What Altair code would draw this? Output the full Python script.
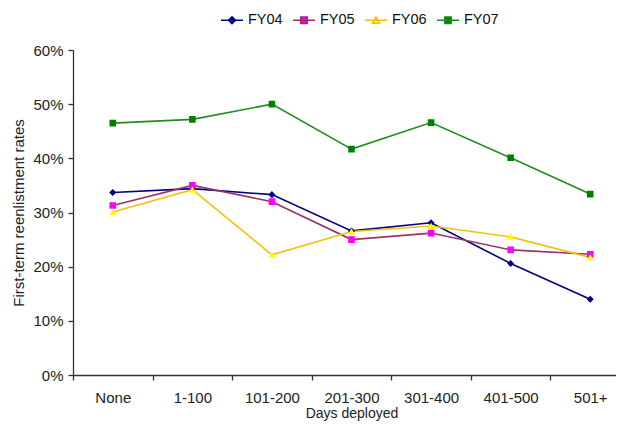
import altair as alt
import pandas as pd

categories = ["None", "1-100", "101-200", "201-300", "301-400", "401-500", "501+"]
series = ["FY04", "FY05", "FY06", "FY07"]
fy04 = [33.7, 34.4, 33.3, 26.6, 28.1, 20.6, 14.0]
fy05 = [31.3, 35.0, 32.0, 25.0, 26.2, 23.1, 22.3]
fy06 = [30.1, 34.2, 22.2, 26.5, 27.5, 25.5, 21.7]
fy07 = [46.5, 47.2, 50.0, 41.7, 46.6, 40.1, 33.4]
y_ticks = [0, 0.1, 0.2, 0.3, 0.4, 0.5, 0.6]

line_colors = ["#000080", "#993366", "#F0C20A", "#228B22"]
marker_colors = ["#000080", "#FF00FF", "#FFFF00", "#008000"]
# each symbol = a short line (only stroked, shown in the legend) + a filled marker
marker_paths = [
    "M-1,0H1M0,-0.32L0.32,0L0,0.32L-0.32,0Z",
    "M-1,0H1M-0.3,-0.3H0.3V0.3H-0.3Z",
    "M-1,0H1M0,-0.3L0.33,0.27H-0.33Z",
    "M-1,0H1M-0.3,-0.3H0.3V0.3H-0.3Z",
]

rows = []
for name, vals in zip(series, [fy04, fy05, fy06, fy07]):
    for cat, v in zip(categories, vals):
        rows.append({"series": name, "days": cat, "rate": v / 100.0})
df = pd.DataFrame(rows)

FONT = "Liberation Sans"

base = alt.Chart(df).encode(
    x=alt.X(
        "days:N",
        sort=categories,
        scale=alt.Scale(type="band", domain=categories, range=[0, 557], paddingInner=0, paddingOuter=0),
        axis=alt.Axis(
            tickBand="extent",
            labelAngle=0,
            labelPadding=10,
            title="Days deployed",
            titleY=42,
            titleBaseline="alphabetic",
            titleFontSize=14,
        ),
    ),
    y=alt.Y(
        "rate:Q",
        scale=alt.Scale(domain=[0, 0.6]),
        axis=alt.Axis(
            format=".0%",
            values=y_ticks,
            labelPadding=5,
            title="First-term reenlistment rates",
            titleFontSize=15,
            titlePadding=6,
        ),
    ),
)

lines = base.mark_line(strokeWidth=1.6).encode(
    stroke=alt.Stroke("series:N", scale=alt.Scale(domain=series, range=line_colors),
                      legend=alt.Legend(title=None)),
    detail="series:N",
)

points = base.mark_point(filled=True, size=484, opacity=1).encode(
    fill=alt.Fill("series:N", scale=alt.Scale(domain=series, range=marker_colors),
                  legend=alt.Legend(title=None)),
    shape=alt.Shape("series:N", scale=alt.Scale(domain=series, range=marker_paths),
                    legend=alt.Legend(title=None)),
)

chart = (
    alt.layer(lines, points)
    .properties(
        width=543,
        height=325,
        autosize=alt.AutoSizeParams(type="none"),
        padding={"left": 65, "top": 42, "right": 0, "bottom": 47},
    )
    .configure_view(stroke=None)
    .configure_axis(
        labelFont=FONT,
        titleFont=FONT,
        labelFontSize=15,
        labelColor="#222222",
        titleColor="#222222",
        titleFontWeight="normal",
        domainColor="#333333",
        tickColor="#333333",
        domainWidth=1.3,
        tickWidth=1.3,
        tickSize=5,
        grid=False,
    )
    .configure_legend(
        orient="none",
        legendX=147,
        legendY=-42,
        direction="horizontal",
        symbolSize=484,
        symbolStrokeWidth=1.5,
        symbolOpacity=1,
        labelFont=FONT,
        labelFontSize=14.5,
        labelColor="#111111",
        labelOffset=4,
        columnPadding=7,
        padding=0,
    )
)

chart.save("out.html", embed_options={"renderer": "svg", "actions": False})
